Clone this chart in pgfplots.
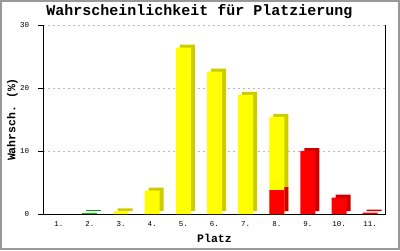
\documentclass[border=0pt]{standalone}
\usepackage{pgfplots}
\pgfplotsset{compat=1.18}
\usepackage{fontspec}
\setmonofont{Liberation Mono}
\definecolor{yel}{RGB}{255,255,0}
\definecolor{dyel}{RGB}{204,204,0}
\definecolor{rd}{RGB}{255,0,0}
\definecolor{drd}{RGB}{204,0,0}
\definecolor{grn}{RGB}{0,204,0}
\definecolor{dgrn}{RGB}{0,160,0}
\definecolor{framegray}{RGB}{153,153,153}
\definecolor{gridgray}{RGB}{185,185,185}
\begin{document}
\begin{tikzpicture}
\useasboundingbox (0pt,0pt) rectangle (400pt,250pt);
\fill[white] (0pt,0pt) rectangle (400pt,250pt);
\draw[framegray, line width=2pt] (1pt,1pt) rectangle (399pt,249pt);
\node[anchor=center, inner sep=0pt, font=\ttfamily\bfseries\fontsize{15}{16}\selectfont] at (199.5pt,238pt) {Wahrscheinlichkeit für Platzierung};
\begin{axis}[
  at={(43.3pt,36pt)}, anchor=south west,
  scale only axis, width=342.4pt, height=189pt,
  xmin=0.5, xmax=11.5, ymin=0, ymax=30,
  axis x line*=bottom, axis y line*=box,
  axis line style={-, black, line width=1pt},
  xtick={1,2,3,4,5,6,7,8,9,10,11},
  xticklabels={1.,2.,3.,4.,5.,6.,7.,8.,9.,10.,11.},
  ytick={0,10,20,30},
  ytick pos=left,
  tick align=outside,
  major tick length=5pt,
  ytick style={black, line width=1pt},
  xtick style={draw=none},
  ymajorgrids,
  grid style={gridgray, line width=1pt, dash pattern=on 2pt off 3pt},
  /pgf/number format/assume math mode=true,
  tick label style={font=\ttfamily\fontsize{7.5}{8}\selectfont},
  yticklabel style={inner sep=0pt, xshift=-9pt},
  xticklabel style={inner sep=0pt, yshift=-2pt},
  xlabel={Platz},
  xlabel style={at={(axis description cs:0.5,-0.13)}, anchor=center, font=\ttfamily\bfseries\fontsize{11.5}{12}\selectfont},
  ylabel={Wahrsch. (\%)},
  ylabel style={at={(axis description cs:-0.09,0.5)}, anchor=center, font=\ttfamily\bfseries\fontsize{11.5}{12}\selectfont},
]
% shaded sides (3D depth)
\addplot[ybar, bar width=15pt, bar shift=4pt, yshift=3pt, fill=dyel, draw=none]
  coordinates {(3,0.4) (4,3.7) (5,26.4) (6,22.6) (7,18.9) (8,15.4)};
\addplot[ybar, bar width=15pt, bar shift=4pt, yshift=3pt, fill=dgrn, draw=none]
  coordinates {(2,0.1)};
\addplot[ybar, bar width=15pt, bar shift=4pt, yshift=3pt, fill=drd, draw=none]
  coordinates {(8,3.8) (9,10.0) (10,2.6) (11,0.2)};
% front faces
\addplot[ybar, bar width=15pt, bar shift=0pt, fill=yel, draw=none]
  coordinates {(3,0.4) (4,3.7) (5,26.4) (6,22.6) (7,18.9) (8,15.4)};
\addplot[ybar, bar width=15pt, bar shift=0pt, fill=grn, draw=none]
  coordinates {(2,0.1)};
\addplot[ybar, bar width=15pt, bar shift=0pt, fill=rd, draw=none]
  coordinates {(8,3.8) (9,10.0) (10,2.6) (11,0.2)};
\end{axis}
\end{tikzpicture}
\end{document}
